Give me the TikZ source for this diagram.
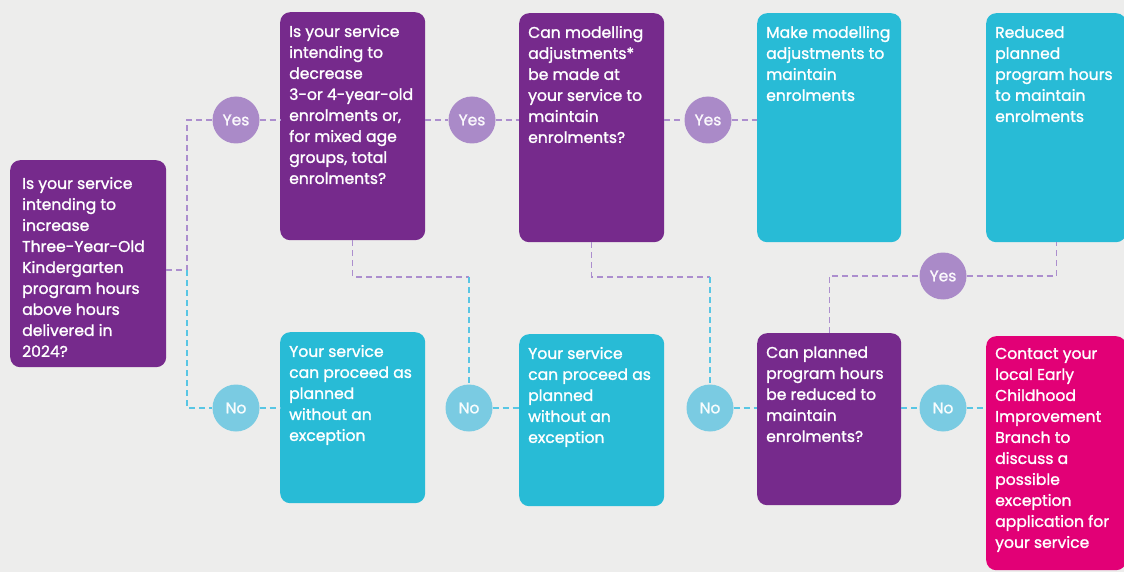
\documentclass[tikz,border=0pt]{standalone}
\usepackage{fontspec}
\setmainfont{Poppins}[FakeBold=1.3]
\definecolor{bgc}{RGB}{237,237,236}
\definecolor{pbox}{RGB}{118,42,140}
\definecolor{cbox}{RGB}{40,187,214}
\definecolor{mbox}{RGB}{226,0,118}
\definecolor{ycirc}{RGB}{170,138,200}
\definecolor{ncirc}{RGB}{122,203,226}
\definecolor{pline}{RGB}{172,142,206}
\definecolor{cline}{RGB}{88,198,228}
\newcommand\bt[3]{\parbox[c][#2][t]{#1}{\raggedright\fontsize{15.6}{21}\selectfont\strut #3}}
\tikzset{
  card/.style={rounded corners=10pt, inner xsep=9pt, inner ysep=10pt, anchor=north west, text=white},
  qcard/.style={card, fill=pbox},
  acard/.style={card, fill=cbox},
  xcard/.style={card, fill=mbox},
  yescirc/.style={circle, fill=ycirc, minimum size=47pt, inner sep=0pt, text=white!94!ycirc, font=\fontsize{15.5}{16}\selectfont},
  nocirc/.style={circle, fill=ncirc, minimum size=47pt, inner sep=0pt, text=white!94!ncirc, font=\fontsize{15.5}{16}\selectfont},
  pdash/.style={draw=pline, line width=1.4pt, dash pattern=on 6pt off 4pt},
  cdash/.style={draw=cline, line width=1.4pt, dash pattern=on 6pt off 4pt},
}
\begin{document}
\begin{tikzpicture}[x=1pt,y=-1pt]
\useasboundingbox (0,0) rectangle (1124,572);
\fill[bgc] (0,0) rectangle (1124,572);

% boxes
\node[qcard, inner xsep=12pt, inner ysep=14pt] (A) at (10,160) {\bt{132pt}{179pt}{Is your service\\ intending to\\ increase\\ Three-Year-Old\\ Kindergarten\\ program hours\\ above hours\\ delivered in\\ 2024?}};
\node[qcard] (B) at (280,12) {\bt{127pt}{208pt}{Is your service\\ intending to\\ decrease\\ 3-or 4-year-old\\ enrolments or,\\ for mixed age\\ groups, total\\ enrolments?}};
\node[qcard] (C) at (519,13) {\bt{127pt}{209pt}{Can modelling\\ adjustments*\\ be made at\\ your service to\\ maintain\\ enrolments?}};
\node[acard] (D) at (757,13) {\bt{126pt}{209pt}{Make modelling\\ adjustments to\\ maintain\\ enrolments}};
\node[acard] (E) at (986,13) {\bt{122pt}{209pt}{Reduced\\ planned\\ program hours\\ to maintain\\ enrolments}};
\node[acard] (F) at (280,332) {\bt{127pt}{151pt}{Your service\\ can proceed as\\ planned\\ without an\\ exception}};
\node[acard] (G) at (519,334) {\bt{127pt}{152pt}{Your service\\ can proceed as\\ planned\\ without an\\ exception}};
\node[qcard] (H) at (757,333) {\bt{126pt}{152pt}{Can planned\\ program hours\\ be reduced to\\ maintain\\ enrolments?}};
\node[xcard, inner ysep=8pt] (I) at (986,336) {\bt{122pt}{218pt}{Contact your\\ local Early\\ Childhood\\ Improvement\\ Branch to\\ discuss a\\ possible\\ exception\\ application for\\ your service}};

% circles
\node[yescirc] (Y1) at (236,120) {Yes};
\node[nocirc]  (N1) at (236,408) {No};
\node[yescirc] (Y2) at (472,120) {Yes};
\node[nocirc]  (N2) at (469,408) {No};
\node[yescirc] (Y3) at (708,120) {Yes};
\node[nocirc]  (N3) at (710,408) {No};
\node[yescirc] (Y4) at (943,276) {Yes};
\node[nocirc]  (N4) at (943,408) {No};

% junctions
\coordinate (j1) at (187,270);
\coordinate (j2) at (469,277);
\coordinate (j3) at (710,277);

% connectors
\draw[pdash] (A.east |- j1) -- (j1) |- (Y1.west);
\draw[cdash] (j1) |- (N1.west);
\draw[pdash] (Y1.east) -- (Y1.east -| B.west);
\draw[cdash] (N1.east) -- (N1.east -| F.west);
\draw[pdash] (B.east |- Y2) -- (Y2.west);
\draw[pdash] (Y2.east) -- (Y2.east -| C.west);
\draw[pdash] (B.south) |- (j2);
\draw[cdash] (j2) -- (N2.north);
\draw[cdash] (N2.east) -- (N2.east -| G.west);
\draw[pdash] (C.east |- Y3) -- (Y3.west);
\draw[pdash] (Y3.east) -- (Y3.east -| D.west);
\draw[pdash] (C.south) |- (j3);
\draw[cdash] (j3) -- (N3.north);
\draw[cdash] (N3.east) -- (N3.east -| H.west);
\draw[pdash] (H.north) |- (Y4.west);
\draw[pdash] (Y4.east) -| (E.south);
\draw[cdash] (H.east |- N4) -- (N4.west);
\draw[cdash] (N4.east) -- (N4.east -| I.west);
\end{tikzpicture}
\end{document}
